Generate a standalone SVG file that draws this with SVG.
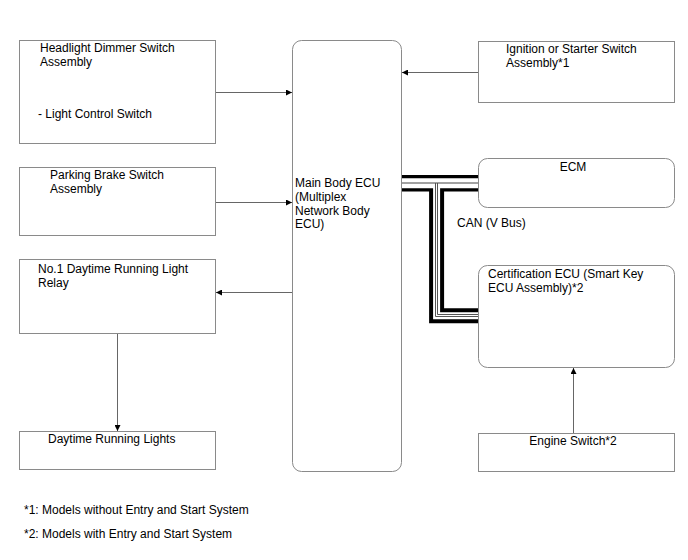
<svg xmlns="http://www.w3.org/2000/svg" width="688" height="560" viewBox="0 0 688 560">
<style>
.box{fill:#fff;stroke:#8a8a8a;stroke-width:1}
.t{font-family:"Liberation Sans",Arial,sans-serif;font-size:12px;fill:#000}
.c{stroke:#666;stroke-width:1;fill:none}
</style>
<defs>
<marker id="ah" viewBox="0 0 10 10" refX="10" refY="5" markerWidth="9" markerHeight="6" markerUnits="userSpaceOnUse" orient="auto">
<path d="M0,0 L10,5 L0,10 z" fill="#000"/>
</marker>
</defs>
<rect width="688" height="560" fill="#fff"/>
<g id="headlight">
<rect class="box" x="19.5" y="40.5" width="196" height="103"/>
<text class="t" x="40" y="52">Headlight Dimmer Switch</text>
<text class="t" x="40" y="66">Assembly</text>
<text class="t" x="38" y="118">- Light Control Switch</text>
</g>
<g id="parking">
<rect class="box" x="19.5" y="167.5" width="196" height="68"/>
<text class="t" x="50" y="179">Parking Brake Switch</text>
<text class="t" x="50" y="193">Assembly</text>
</g>
<g id="relay">
<rect class="box" x="19.5" y="259.5" width="196" height="74"/>
<text class="t" x="38" y="273">No.1 Daytime Running Light</text>
<text class="t" x="38" y="287">Relay</text>
</g>
<g id="drl">
<rect class="box" x="19.5" y="431.5" width="196" height="38"/>
<text class="t" x="48" y="443">Daytime Running Lights</text>
</g>
<g id="mainecu">
<rect class="box" x="292.5" y="40.5" width="109" height="431" rx="9"/>
<text class="t" x="295" y="187">Main Body ECU</text>
<text class="t" x="295" y="201">(Multiplex</text>
<text class="t" x="295" y="215">Network Body</text>
<text class="t" x="295" y="228">ECU)</text>
</g>
<g id="ignition">
<rect class="box" x="478.5" y="41.5" width="196" height="61"/>
<text class="t" x="506" y="53">Ignition or Starter Switch</text>
<text class="t" x="506" y="67">Assembly*1</text>
</g>
<g id="ecm">
<rect class="box" x="478.5" y="158.5" width="196" height="49" rx="9"/>
<text class="t" x="573" y="171" text-anchor="middle">ECM</text>
</g>
<g id="cert">
<rect class="box" x="478.5" y="265.5" width="196" height="102" rx="9"/>
<text class="t" x="488" y="278">Certification ECU (Smart Key</text>
<text class="t" x="488" y="292">ECU Assembly)*2</text>
</g>
<g id="engine">
<rect class="box" x="478.5" y="433.5" width="196" height="38"/>
<text class="t" x="573" y="445" text-anchor="middle">Engine Switch*2</text>
</g>
<g id="connectors">
<line class="c" x1="216" y1="92.5" x2="292" y2="92.5" marker-end="url(#ah)"/>
<line class="c" x1="216" y1="202.5" x2="292" y2="202.5" marker-end="url(#ah)"/>
<line class="c" x1="478" y1="72.5" x2="402" y2="72.5" marker-end="url(#ah)"/>
<line class="c" x1="292" y1="292.5" x2="216" y2="292.5" marker-end="url(#ah)"/>
<line class="c" x1="117.5" y1="334" x2="117.5" y2="431" marker-end="url(#ah)"/>
<line class="c" x1="573.5" y1="433" x2="573.5" y2="368" marker-end="url(#ah)"/>
<g id="canbus" fill="none" stroke-linejoin="miter" stroke-linecap="butt">
<path d="M402,183.3 H478" stroke="#000" stroke-width="16.6"/>
<path d="M402,183.3 H436.6 V315.8 H478" stroke="#000" stroke-width="15"/>
<path d="M402,183.3 H478" stroke="#fff" stroke-width="10"/>
<path d="M402,183.3 H436.6 V315.8 H478" stroke="#fff" stroke-width="7"/>
<path d="M402,183 H478" stroke="#444" stroke-width="1"/>
<path d="M435.5,183 V316.5 H478" stroke="#555" stroke-width="1"/>
<path d="M437.5,183 V314.5 H478" stroke="#555" stroke-width="1"/>
</g>
<text class="t" x="457" y="227">CAN (V Bus)</text>
</g>
<g id="notes">
<text class="t" x="24" y="514">*1: Models without Entry and Start System</text>
<text class="t" x="24" y="538">*2: Models with Entry and Start System</text>
</g>
</svg>
